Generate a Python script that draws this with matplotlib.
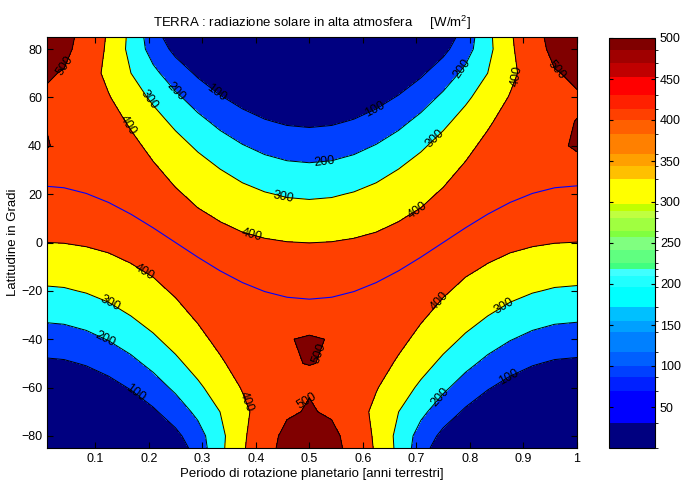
import matplotlib
matplotlib.use("Agg")
import matplotlib.pyplot as plt
from matplotlib.colors import ListedColormap, BoundaryNorm
from matplotlib.cm import ScalarMappable
import numpy as np

plt.rcParams['font.family'] = ['Liberation Sans', 'DejaVu Sans']
plt.rcParams['mathtext.fontset'] = 'custom'
plt.rcParams['mathtext.rm'] = 'Liberation Sans'

# ----------------------------
# Data
# ----------------------------

# fraction of the year, one column every half month
t_grid = [0.0, 0.0417, 0.0833, 0.125, 0.1667, 0.2083, 0.25, 0.2917, 0.3333,
          0.375, 0.4167, 0.4583, 0.5, 0.5417, 0.5833, 0.625, 0.6667, 0.7083,
          0.75, 0.7917, 0.8333, 0.875, 0.9167, 0.9583, 1.0]

lat_grid = [85, 80, 70, 60, 50, 40, 30, 20, 10, 0,
            -10, -20, -30, -40, -50, -60, -70, -80, -85]

# daily mean radiation [W/m2], one list per time column (lat 85 -> -85)
col_00 = [542.8, 536.6, 511.0, 494.6, 500.9, 502.1, 493.5, 472.8, 441.5, 399.2, 347.1, 286.8, 220.7, 151.5, 83.4, 23.7, 0, 0, 0]
col_01 = [525.2, 519.2, 495.4, 484.7, 493.2, 496.7, 490.4, 471.7, 442.2, 401.6, 350.9, 291.7, 226.3, 157.5, 89.2, 28.1, 0, 0, 0]
col_02 = [472.4, 467.0, 445.6, 452.9, 469.8, 480.2, 480.0, 468.0, 443.9, 408.1, 361.6, 305.9, 242.9, 175.4, 106.6, 42.2, 0, 0, 0]
col_03 = [388.4, 384.0, 376.9, 405.7, 434.4, 454.8, 464.0, 460.9, 445.1, 417.0, 377.4, 327.5, 269.0, 204.2, 135.8, 68.1, 10.6, 0, 0]
col_04 = [276.6, 273.4, 300.5, 347.1, 388.6, 420.5, 441.0, 449.0, 443.9, 426.0, 395.8, 354.0, 302.2, 242.1, 176.0, 106.7, 39.7, 0, 0]
col_05 = [143.9, 160.4, 222.2, 282.6, 335.7, 379.2, 411.5, 431.6, 438.7, 432.7, 413.6, 382.2, 339.3, 286.3, 225.0, 157.4, 86.4, 18.1, 0]
col_06 = [37.9, 75.5, 148.8, 217.6, 279.7, 333.3, 376.8, 408.9, 428.5, 435.1, 428.5, 408.9, 376.8, 333.3, 279.7, 217.6, 148.8, 75.5, 37.9]
col_07 = [0, 18.1, 86.4, 157.4, 225.0, 286.3, 339.3, 382.2, 413.6, 432.7, 438.7, 431.6, 411.5, 379.2, 335.7, 282.6, 222.2, 160.4, 143.9]
col_08 = [0, 0, 39.7, 106.7, 176.0, 242.1, 302.2, 354.0, 395.8, 426.0, 443.9, 449.0, 441.0, 420.5, 388.6, 347.1, 300.5, 273.4, 276.6]
col_09 = [0, 0, 10.6, 68.1, 135.8, 204.2, 269.0, 327.5, 377.4, 417.0, 445.1, 460.9, 464.0, 454.8, 434.4, 405.7, 376.9, 384.0, 388.4]
col_10 = [0, 0, 0, 42.2, 106.6, 175.4, 242.9, 305.9, 361.6, 408.1, 443.9, 468.0, 480.0, 480.2, 469.8, 452.9, 445.6, 467.0, 472.4]
col_11 = [0, 0, 0, 28.1, 89.2, 157.5, 226.3, 291.7, 350.9, 401.6, 442.2, 471.7, 491.4, 499.3, 499.0, 485.6, 490.0, 520.3, 526.3]
col_12 = [0, 0, 0, 23.7, 83.4, 151.5, 220.7, 286.8, 347.1, 399.2, 441.5, 472.8, 492.5, 501.5, 500.4, 495.5, 506.0, 537.6, 543.9]
col_13 = [0, 0, 0, 28.1, 89.2, 157.5, 226.3, 291.7, 350.9, 401.6, 442.2, 471.7, 491.4, 499.3, 499.0, 485.6, 490.0, 520.3, 526.3]
col_14 = [0, 0, 0, 42.2, 106.6, 175.4, 242.9, 305.9, 361.6, 408.1, 443.9, 468.0, 480.0, 480.2, 469.8, 452.9, 445.6, 467.0, 472.4]
col_15 = [0, 0, 10.6, 68.1, 135.8, 204.2, 269.0, 327.5, 377.4, 417.0, 445.1, 460.9, 464.0, 454.8, 434.4, 405.7, 376.9, 384.0, 388.4]
col_16 = [0, 0, 39.7, 106.7, 176.0, 242.1, 302.2, 354.0, 395.8, 426.0, 443.9, 449.0, 441.0, 420.5, 388.6, 347.1, 300.5, 273.4, 276.6]
col_17 = [0, 18.1, 86.4, 157.4, 225.0, 286.3, 339.3, 382.2, 413.6, 432.7, 438.7, 431.6, 411.5, 379.2, 335.7, 282.6, 222.2, 160.4, 143.9]
col_18 = [37.9, 75.5, 148.8, 217.6, 279.7, 333.3, 376.8, 408.9, 428.5, 435.1, 428.5, 408.9, 376.8, 333.3, 279.7, 217.6, 148.8, 75.5, 37.9]
col_19 = [143.9, 160.4, 222.2, 282.6, 335.7, 379.2, 411.5, 431.6, 438.7, 432.7, 413.6, 382.2, 339.3, 286.3, 225.0, 157.4, 86.4, 18.1, 0]
col_20 = [276.6, 273.4, 300.5, 347.1, 388.6, 420.5, 441.0, 449.0, 443.9, 426.0, 395.8, 354.0, 302.2, 242.1, 176.0, 106.7, 39.7, 0, 0]
col_21 = [388.4, 384.0, 376.9, 405.7, 434.4, 454.8, 464.0, 460.9, 445.1, 417.0, 377.4, 327.5, 269.0, 204.2, 135.8, 68.1, 10.6, 0, 0]
col_22 = [472.4, 467.0, 445.6, 452.9, 469.8, 480.2, 480.0, 468.0, 443.9, 408.1, 361.6, 305.9, 242.9, 175.4, 106.6, 42.2, 0, 0, 0]
col_23 = [525.2, 519.2, 495.4, 484.7, 493.2, 496.7, 490.4, 471.7, 442.2, 401.6, 350.9, 291.7, 226.3, 157.5, 89.2, 28.1, 0, 0, 0]
col_24 = [542.8, 536.6, 511.0, 494.6, 500.9, 502.1, 493.5, 472.8, 441.5, 399.2, 347.1, 286.8, 220.7, 151.5, 83.4, 23.7, 0, 0, 0]

# latitude of the sub-solar point (blue line)
declination = [23.44, 22.64, 20.30, 16.57, 11.72, 6.07, 0.0, -6.07, -11.72,
               -16.57, -20.30, -22.64, -23.44, -22.64, -20.30, -16.57, -11.72,
               -6.07, 0.0, 6.07, 11.72, 16.57, 20.30, 22.64, 23.44]

contour_levels = [100, 200, 300, 400, 500]

# colorbar bands (value edges and colours, bottom -> top)
cbar_edges = [0, 31, 70, 86, 100, 117, 141, 155, 172, 196, 210, 218, 226, 242,
              257, 265, 281, 289, 297, 328, 344, 359, 383, 400, 414, 430, 452,
              469, 485, 500]
cbar_colors = ['#000080', '#0000FF', '#0020FF', '#0040FF', '#0060FF', '#0080FF',
               '#00A0FF', '#00C0FF', '#00FFFF', '#20FFFF', '#40FFFF', '#40FF80',
               '#60FF80', '#80FF80', '#80FF40', '#A0FF40', '#C0FF40', '#C0FF00',
               '#FFFF00', '#FFC000', '#FFA000', '#FF8000', '#FF6000', '#FF4000',
               '#FF2000', '#FF0000', '#C00000', '#A00000', '#800000']
cbar_ticks = [50, 100, 150, 200, 250, 300, 350, 400, 450, 500]

# ----------------------------
# Figure
# ----------------------------

columns = [col_00, col_01, col_02, col_03, col_04, col_05, col_06, col_07, col_08,
           col_09, col_10, col_11, col_12, col_13, col_14, col_15, col_16, col_17,
           col_18, col_19, col_20, col_21, col_22, col_23, col_24]
Q = np.column_stack(columns)

fig = plt.figure(figsize=(6.88, 4.83), dpi=100)
ax = fig.add_axes([47/688, 1 - 448/483, 530/688, 411/483])

fill_colors = ['#000080', '#0040FF', '#1EFFFF', '#FFFF00', '#FF4000', '#800000']
ax.contourf(t_grid, lat_grid, Q, levels=[-1] + contour_levels + [700],
            colors=fill_colors)
cs = ax.contour(t_grid, lat_grid, Q, levels=contour_levels, colors='k',
                linewidths=0.7)

# label spots, same places as in the reference
label_spots = [(0.050, 72.4), (0.203, 59.3), (0.253, 62.8), (0.327, 62.1),
               (0.165, 49.0), (0.452, 18.9), (0.393, 3.8), (0.622, 55.6),
               (0.787, 71.7), (0.886, 69.0), (0.964, 71.7), (0.734, 42.8),
               (0.528, 33.8), (0.698, 14.6), (0.193, -11.7), (0.128, -25.0),
               (0.119, -39.2), (0.178, -61.3), (0.383, -65.8), (0.489, -64.7),
               (0.517, -45.4), (0.745, -24.7), (0.863, -25.8), (0.740, -63.3),
               (0.871, -55.1)]
ax.clabel(cs, fmt='%d', fontsize=9, inline=False, manual=label_spots)

ax.plot(t_grid, declination, color='#0000FF', linewidth=0.8)

ax.set_xlim(0.01, 1)
ax.set_ylim(-85, 85)
ax.set_xticks([0.1, 0.2, 0.3, 0.4, 0.5, 0.6, 0.7, 0.8, 0.9, 1.0])
ax.set_xticklabels(['0.1', '0.2', '0.3', '0.4', '0.5', '0.6', '0.7', '0.8', '0.9', '1'])
ax.set_yticks([-80, -60, -40, -20, 0, 20, 40, 60, 80])
ax.tick_params(direction='in', length=4, top=True, right=True, labelsize=9)
for s in ax.spines.values():
    s.set_linewidth(0.8)

ax.set_title('TERRA : radiazione solare in alta atmosfera     [W/m$^2$]',
             fontsize=9.5, pad=7)
ax.set_xlabel('Periodo di rotazione planetario [anni terrestri]', fontsize=9.5,
              labelpad=2)
ax.set_ylabel('Latitudine in Gradi', fontsize=9.5, labelpad=1)

# colorbar
cax = fig.add_axes([609/688, 1 - 448/483, 46/688, 410/483])
cmap = ListedColormap(cbar_colors)
norm = BoundaryNorm(cbar_edges, cmap.N)
cb = fig.colorbar(ScalarMappable(norm=norm, cmap=cmap), cax=cax,
                  spacing='proportional', ticks=cbar_ticks)
cb.ax.tick_params(direction='in', length=3, left=True, right=True, labelsize=9)
cb.outline.set_linewidth(0.8)

fig.savefig('out.png', dpi=100)
